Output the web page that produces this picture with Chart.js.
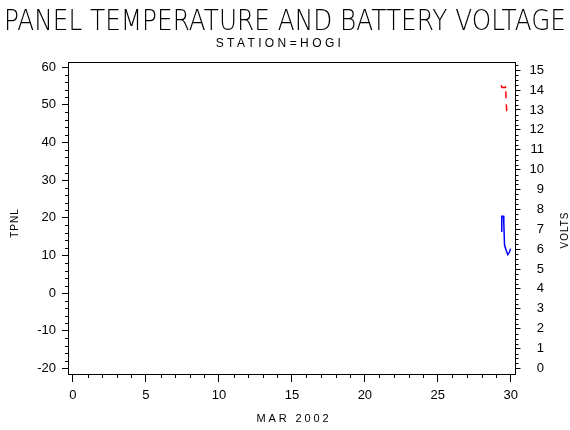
<!DOCTYPE html>
<html>
<head>
<meta charset="utf-8">
<title>Panel temperature and battery voltage</title>
<script src="https://cdn.jsdelivr.net/npm/chart.js@4.4.0/dist/chart.umd.min.js"></script>
<style>
  html, body { margin: 0; padding: 0; background: #fff; }
  #wrap { width: 570px; height: 430px; }
</style>
</head>
<body>
<div id="wrap"><canvas id="chart" width="570" height="430"></canvas></div>
<script>
// readings near the end of the month (day of month as a decimal)
const tpnlDays = [29.34, 29.38, 29.50, 29.52, 29.57, 29.68, 29.79, 29.91, 29.98];
const tpnlValues = [16.4, 20.4, 20.4, 18.5, 12.7, 11.4, 10.2, 10.9, 11.8];
const voltDays = [29.34, 29.40, 29.62, 29.65, 29.66, 29.68, 29.72, 29.79];
const voltValues = [14.24, 14.13, 14.13, 14.22, 13.9, 13.4, 12.95, 12.7];

// axis ticks
const dayTicks = [0, 5, 10, 15, 20, 25, 30];
const tpnlTicks = [-20, -10, 0, 10, 20, 30, 40, 50, 60];
const voltTicks = [0, 1, 2, 3, 4, 5, 6, 7, 8, 9, 10, 11, 12, 13, 14, 15];

const TICK_FONT = { family: '"Liberation Sans", Arial, sans-serif', size: 13 };

function toPoints(xs, ys){
  return xs.map((x, i) => ({ x: x, y: ys[i] }));
}

function fixedTicks(list){
  return function(scale){
    scale.ticks = list.map(v => ({ value: v }));
  };
}

// minor tick marks, the top edge of the frame and all the titles
const decorations = {
  id: 'decorations',
  afterDraw(chart){
    const ctx = chart.ctx;
    const a = chart.chartArea;
    const sx = chart.scales.x, sl = chart.scales.y, sr = chart.scales.y1;
    ctx.save();
    ctx.strokeStyle = '#000';
    ctx.lineWidth = 1;
    ctx.beginPath();
    ctx.moveTo(a.left, Math.round(a.top) + 0.5);
    ctx.lineTo(a.right + 0.5, Math.round(a.top) + 0.5);

    for(let d = Math.ceil(sx.min); d <= sx.max; d++){
      if(d % 5 === 0) continue;
      const px = Math.round(sx.getPixelForValue(d)) + 0.5;
      ctx.moveTo(px, a.bottom);
      ctx.lineTo(px, a.bottom + 4);
    }
    for(let v = -20; v <= sl.max; v += 2){
      if(v % 10 === 0) continue;
      const py = Math.round(sl.getPixelForValue(v)) + 0.5;
      ctx.moveTo(a.left, py);
      ctx.lineTo(a.left - 3, py);
    }
    for(let v = 0; v <= sr.max; v += 0.25){
      if(v % 1 === 0) continue;
      const py = Math.round(sr.getPixelForValue(v)) + 0.5;
      ctx.moveTo(a.right, py);
      ctx.lineTo(a.right + 3, py);
    }
    ctx.stroke();

    ctx.fillStyle = '#000';
    ctx.textAlign = 'center';
    ctx.textBaseline = 'alphabetic';
    ctx.font = '200 29px "DejaVu Sans", "Liberation Sans", sans-serif';
    ctx.fillText('PANEL TEMPERATURE AND BATTERY VOLTAGE', 285, 30, 562);

    ctx.textBaseline = 'middle';
    ctx.font = '12px "Liberation Sans", Arial, sans-serif';
    ctx.letterSpacing = '3.4px';
    ctx.fillText('STATION=HOGI', 280, 44);

    ctx.font = '11px "Liberation Sans", Arial, sans-serif';
    ctx.letterSpacing = '2.9px';
    ctx.fillText('MAR 2002', 294, 419);

    ctx.font = '10px "Liberation Sans", Arial, sans-serif';
    ctx.letterSpacing = '1px';
    ctx.save();
    ctx.translate(15, 223);
    ctx.rotate(-Math.PI / 2);
    ctx.fillText('TPNL', 0, 0);
    ctx.restore();

    ctx.save();
    ctx.translate(565, 230);
    ctx.rotate(-Math.PI / 2);
    ctx.fillText('VOLTS', 0, 0);
    ctx.restore();

    ctx.restore();
  }
};

new Chart(document.getElementById('chart').getContext('2d'), {
  type: 'scatter',
  data: {
    datasets: [{
      label: 'TPNL',
      data: toPoints(tpnlDays, tpnlValues),
      yAxisID: 'y',
      showLine: true,
      borderColor: '#0000ff',
      borderWidth: 1.5,
      pointRadius: 0,
      tension: 0
    }, {
      label: 'VOLTS',
      data: toPoints(voltDays, voltValues),
      yAxisID: 'y1',
      showLine: true,
      borderColor: '#ff0000',
      borderWidth: 1.5,
      borderDash: [7, 6],
      pointRadius: 0,
      tension: 0
    }]
  },
  options: {
    responsive: false,
    animation: false,
    layout: { padding: { top: 62, left: 0, right: 26, bottom: 0 } },
    plugins: {
      legend: { display: false },
      title: { display: false },
      tooltip: { enabled: false }
    },
    scales: {
      x: {
        type: 'linear',
        min: -0.34,
        max: 30.32,
        afterBuildTicks: fixedTicks(dayTicks),
        afterFit(scale){ scale.height = 56; },
        grid: { drawOnChartArea: false, drawTicks: true, tickLength: 8, color: '#000' },
        border: { display: true, color: '#000', width: 1 },
        ticks: { color: '#000', font: TICK_FONT, padding: 6, maxRotation: 0 }
      },
      y: {
        type: 'linear',
        position: 'left',
        min: -21.46,
        max: 61.33,
        afterBuildTicks: fixedTicks(tpnlTicks),
        afterFit(scale){ scale.width = 68; },
        grid: { drawOnChartArea: false, drawTicks: true, tickLength: 6, color: '#000' },
        border: { display: true, color: '#000', width: 1 },
        ticks: { color: '#000', font: TICK_FONT, padding: 6 }
      },
      y1: {
        type: 'linear',
        position: 'right',
        min: -0.28,
        max: 15.41,
        afterBuildTicks: fixedTicks(voltTicks),
        afterFit(scale){ scale.width = 28.5; },
        grid: { drawOnChartArea: false, drawTicks: true, tickLength: 5, color: '#000' },
        border: { display: true, color: '#000', width: 1 },
        ticks: { color: '#000', font: TICK_FONT, padding: 7, crossAlign: 'far' }
      }
    }
  },
  plugins: [decorations]
});
</script>
</body>
</html>
